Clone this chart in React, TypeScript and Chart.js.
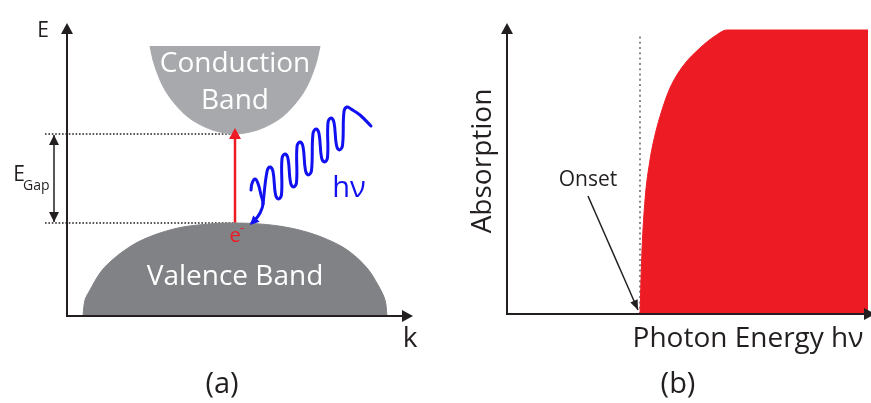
import React, { useEffect, useRef } from 'react';
import { Chart, registerables } from 'chart.js';
Chart.register(...registerables);

const FONT = '"Open Sans", "DejaVu Sans", sans-serif';
const INK = '#231f20';
const RED = '#ed1c24';
const BLUE = '#1010f0';

// ---------- Panel (a): band diagram, k (x) vs E (y), arbitrary units ----------
const valenceK = [16, 18, 23, 33, 43, 58, 73, 93, 116, 143, 168, 193, 218, 243, 266, 283, 300, 311, 318, 320];
const valenceE = [0, 16, 26, 43, 54, 66, 75, 83, 89, 92, 93, 92, 89, 83, 74, 64, 48, 31, 16, 0];
const conductionK = [83, 86, 91, 98, 108, 121, 138, 153, 168, 183, 198, 215, 228, 238, 245, 250, 253];
const conductionE = [270, 256, 241, 226, 212, 199, 189, 184, 182, 184, 189, 199, 212, 226, 241, 256, 270];
const conductionTop = 270;
const valenceMax = 93;
const conductionMin = 182;
const gapLineK = [-22, 166];
const gapArrowK = -13;
const transitionK = 168;
const transitionTipE = 188;
// photon wave trace
const photonK = [196, 200, 203, 206, 208.5, 211.5, 214.5, 215, 218, 221, 223.5, 226.5, 229.5, 230, 233, 236, 238.5, 241.5, 244.5, 246, 249, 252, 254.5, 257.5, 260.5, 261, 264, 267, 269.5, 272.5, 275.5, 277, 280, 284, 293, 304];
const photonE = [112, 144.5, 149, 144.5, 121.5, 117, 121.5, 157.5, 162, 157.5, 133.5, 129, 133.5, 169.5, 174, 169.5, 145.5, 141, 145.5, 182.5, 187, 182.5, 158.5, 154, 158.5, 193.5, 198, 193.5, 170.5, 166, 170.5, 204.5, 209, 207, 201, 190];
// first loop of the wave and the curved arrow into the valence band
const tailK = [184, 185, 188, 191, 194, 196, 193, 188, 183];
const tailE = [126, 132.5, 137, 132.5, 121, 112, 103, 96, 91];

// ---------- Panel (b): absorption vs photon energy ----------
const energyX = [133, 135, 138, 143, 148, 155, 163, 176, 193, 208, 220, 361];
const absorptionY = [0, 64, 114, 154, 179, 204, 226, 248, 266, 278, 284, 284];
const onsetX = 133;
const onsetLineTop = 281;
const onsetArrowX = [81, 131];
const onsetArrowY = [118, 4];

const pts = (xs: number[], ys: number[]) => xs.map((x, i) => ({ x, y: ys[i] }));

function arrowHead(ctx: CanvasRenderingContext2D, fx: number, fy: number, tx: number, ty: number, len: number, half: number, color: string) {
  const a = Math.atan2(ty - fy, tx - fx);
  const bx = tx - len * Math.cos(a);
  const by = ty - len * Math.sin(a);
  ctx.save();
  ctx.fillStyle = color;
  ctx.beginPath();
  ctx.moveTo(tx, ty);
  ctx.lineTo(bx + half * Math.sin(a), by - half * Math.cos(a));
  ctx.lineTo(bx - half * Math.sin(a), by + half * Math.cos(a));
  ctx.closePath();
  ctx.fill();
  ctx.restore();
}

type Label = { t: string; x: number; y: number; size: number; color?: string; align?: CanvasTextAlign; rotate?: number };

function makePlugin(labels: Label[], xTipExtra: number) {
  return {
    id: 'diagram',
    afterDatasetsDraw(chart: any) {
      const ctx: CanvasRenderingContext2D = chart.ctx;
      const { left, right, top, bottom } = chart.chartArea;
      const xs = chart.scales.x;
      const ys = chart.scales.y;
      chart.data.datasets.forEach((ds: any, i: number) => {
        if (!ds.arrow) return;
        const d = chart.getDatasetMeta(i).data;
        const n = d.length;
        if (ds.arrow === 'end' || ds.arrow === 'both') arrowHead(ctx, d[n - 2].x, d[n - 2].y, d[n - 1].x, d[n - 1].y, ds.headLen, ds.headHalf, ds.borderColor);
        if (ds.arrow === 'start' || ds.arrow === 'both') arrowHead(ctx, d[1].x, d[1].y, d[0].x, d[0].y, ds.headLen, ds.headHalf, ds.borderColor);
      });
      ctx.save();
      ctx.strokeStyle = INK;
      ctx.lineWidth = 2;
      ctx.beginPath();
      ctx.moveTo(left, top + 8);
      ctx.lineTo(left, bottom);
      ctx.lineTo(right + xTipExtra - 8, bottom);
      ctx.stroke();
      ctx.restore();
      arrowHead(ctx, left, bottom, left, top, 11, 6, INK);
      arrowHead(ctx, left, bottom, right + xTipExtra, bottom, 11, 6, INK);
      labels.forEach((l) => {
        ctx.save();
        ctx.fillStyle = l.color || INK;
        ctx.font = `${l.size}px ${FONT}`;
        ctx.textAlign = l.align || 'center';
        ctx.textBaseline = 'middle';
        ctx.translate(xs.getPixelForValue(l.x), ys.getPixelForValue(l.y));
        if (l.rotate) ctx.rotate((l.rotate * Math.PI) / 180);
        ctx.fillText(l.t, 0, 0);
        ctx.restore();
      });
    },
  };
}

const leftLabels: Label[] = [
  { t: 'E', x: -24, y: 285, size: 21 },
  { t: 'k', x: 343, y: -23, size: 28 },
  { t: '(a)', x: 155, y: -69, size: 29 },
  { t: 'Conduction', x: 168, y: 252, size: 28, color: '#ffffff' },
  { t: 'Band', x: 168, y: 215, size: 28, color: '#ffffff' },
  { t: 'Valence Band', x: 168, y: 39, size: 28, color: '#ffffff' },
  { t: 'E', x: -48, y: 141, size: 21 },
  { t: 'Gap', x: -44, y: 130, size: 14, align: 'left' },
  { t: 'e', x: 168, y: 80, size: 20, color: RED },
  { t: '-', x: 175, y: 88, size: 13, color: RED },
  { t: 'hν', x: 282, y: 127, size: 29, color: BLUE },
];

const rightLabels: Label[] = [
  { t: 'Absorption', x: -24, y: 153, size: 28, rotate: -90 },
  { t: 'Onset', x: 81, y: 134, size: 21 },
  { t: 'Photon Energy hν', x: 241, y: -25, size: 28 },
  { t: '(b)', x: 171, y: -71, size: 29 },
];

const baseOpts = (xMax: number, yMax: number, pad: any) => ({
  responsive: false,
  animation: false as const,
  events: [] as any[],
  layout: { padding: pad },
  plugins: { legend: { display: false }, tooltip: { enabled: false } },
  elements: { point: { radius: 0 } },
  scales: {
    x: { type: 'linear' as const, min: 0, max: xMax, display: false },
    y: { type: 'linear' as const, min: 0, max: yMax, display: false },
  },
});

function leftConfig(): any {
  return {
    type: 'scatter',
    data: {
      datasets: [
        { data: pts(valenceK, valenceE), showLine: true, fill: 'origin', backgroundColor: '#808285', borderColor: '#808285', borderWidth: 1, tension: 0.35, clip: false },
        { data: pts(conductionK, conductionE), showLine: true, fill: { value: conductionTop }, backgroundColor: '#a7a9ac', borderColor: '#a7a9ac', borderWidth: 1, tension: 0.35, clip: false },
        { data: pts(gapLineK, [conductionMin, conductionMin]), showLine: true, borderColor: INK, borderWidth: 1.5, borderDash: [1.6, 1.8], fill: false, clip: false },
        { data: pts(gapLineK, [valenceMax, valenceMax]), showLine: true, borderColor: INK, borderWidth: 1.5, borderDash: [1.6, 1.8], fill: false, clip: false },
        { data: pts([gapArrowK, gapArrowK], [valenceMax + 1, conductionMin - 1]), showLine: true, borderColor: INK, borderWidth: 1.5, fill: false, clip: false, arrow: 'both', headLen: 10, headHalf: 5 },
        { data: pts([transitionK, transitionK], [valenceMax, transitionTipE]), showLine: true, borderColor: RED, borderWidth: 2.5, fill: false, clip: false, arrow: 'end', headLen: 11, headHalf: 6 },
        { data: pts(photonK, photonE), showLine: true, borderColor: BLUE, borderWidth: 3, fill: false, clip: false, tension: 0.4, borderCapStyle: 'round', borderJoinStyle: 'round' },
        { data: pts(tailK, tailE), showLine: true, borderColor: BLUE, borderWidth: 3, fill: false, clip: false, tension: 0.4, borderCapStyle: 'round', borderJoinStyle: 'round', arrow: 'end', headLen: 9, headHalf: 4.5 },
      ],
    },
    options: baseOpts(346, 293, { left: 67, right: 27, top: 23, bottom: 87 }),
    plugins: [makePlugin(leftLabels, 0)],
  };
}

function rightConfig(): any {
  return {
    type: 'scatter',
    data: {
      datasets: [
        { data: pts(energyX, absorptionY), showLine: true, fill: 'origin', backgroundColor: RED, borderColor: RED, borderWidth: 1, cubicInterpolationMode: 'monotone', clip: false },
        { data: pts([onsetX, onsetX], [0, onsetLineTop]), showLine: true, borderColor: '#8a8a8a', borderWidth: 2, borderDash: [2, 3.3], fill: false, clip: false },
        { data: pts(onsetArrowX, onsetArrowY), showLine: true, borderColor: INK, borderWidth: 1.5, fill: false, clip: false, arrow: 'end', headLen: 10, headHalf: 4 },
      ],
    },
    options: baseOpts(361, 291, { left: 67, right: 3, top: 23, bottom: 89 }),
    plugins: [makePlugin(rightLabels, 7)],
  };
}

export default function App() {
  const leftRef = useRef<HTMLCanvasElement>(null);
  const rightRef = useRef<HTMLCanvasElement>(null);
  useEffect(() => {
    const a = new Chart(leftRef.current as HTMLCanvasElement, leftConfig());
    const b = new Chart(rightRef.current as HTMLCanvasElement, rightConfig());
    return () => {
      a.destroy();
      b.destroy();
    };
  }, []);
  return (
    <div style={{ position: 'fixed', left: 0, top: 0, width: 871, height: 403, background: '#ffffff', overflow: 'hidden' }}>
      <canvas ref={leftRef} width={440} height={403} style={{ position: 'absolute', left: 0, top: 0, width: 440, height: 403 }} />
      <canvas ref={rightRef} width={431} height={403} style={{ position: 'absolute', left: 440, top: 0, width: 431, height: 403 }} />
    </div>
  );
}
